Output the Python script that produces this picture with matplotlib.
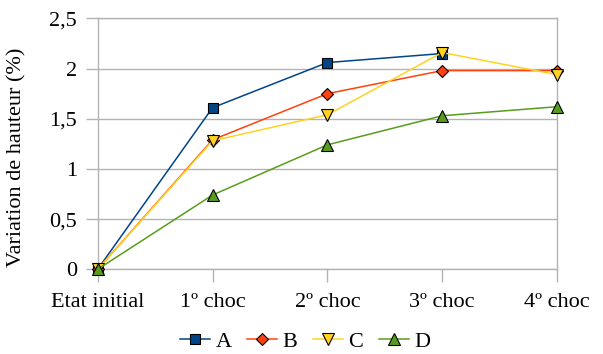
import numpy as np
import matplotlib
matplotlib.use('Agg')
import matplotlib.pyplot as plt
from matplotlib.ticker import FuncFormatter

plt.rcParams['font.family'] = ['Liberation Serif', 'DejaVu Serif']

categories = ['Etat initial', '1º choc', '2º choc', '3º choc', '4º choc']
series_a = [0, 1.61, 2.06, 2.15, np.nan]
series_b = [0, 1.29, 1.75, 1.98, 1.98]
series_c = [0, 1.28, 1.54, 2.16, 1.94]
series_d = [0, 0.74, 1.24, 1.53, 1.62]
labels = ['A', 'B', 'C', 'D']

colors = ['#004586', '#ff420e', '#ffd320', '#579d1c']
markers = ['s', 'D', 'v', '^']
sizes = [7, 6, 8, 8]

fig = plt.figure(figsize=(6.03, 3.54), dpi=100)
ax = fig.add_axes([0.162, 0.2393, 0.7617, 0.7087])

x = np.arange(len(categories))
for vals, lab, col, mk, ms in zip([series_a, series_b, series_c, series_d],
                                  labels, colors, markers, sizes):
    ax.plot(x, vals, color=col, lw=1.1, marker=mk, ms=ms,
            markerfacecolor=col, markeredgecolor='black', markeredgewidth=0.8,
            label=lab, clip_on=False, zorder=3)

ax.set_xlim(0, len(categories) - 1)
ax.set_ylim(0, 2.5)
ax.set_xticks(x)
ax.set_xticklabels(categories)
ax.set_yticks(np.arange(0, 2.51, 0.5))
ax.yaxis.set_major_formatter(FuncFormatter(lambda v, p: f'{v:g}'.replace('.', ',')))

ax.grid(axis='y', color='#b3b3b3', lw=1)
ax.set_axisbelow(True)
for s in ax.spines.values():
    s.set_color('#b3b3b3')
    s.set_linewidth(1)
ax.tick_params(axis='both', colors='#b3b3b3', length=9, width=1,
               labelcolor='black', labelsize=16, pad=6)
ax.tick_params(axis='x', pad=8)

ax.set_ylabel('Variation de hauteur (%)', fontsize=16)
ax.yaxis.set_label_coords(-0.156, 0.447)

fig.legend(loc='center', bbox_to_anchor=(0.506, 0.034), ncol=4,
           frameon=False, fontsize=16, handlelength=1.35, handletextpad=0.25,
           columnspacing=0.7, borderpad=0, markerscale=1.1)

fig.savefig('out.png', dpi=100)
